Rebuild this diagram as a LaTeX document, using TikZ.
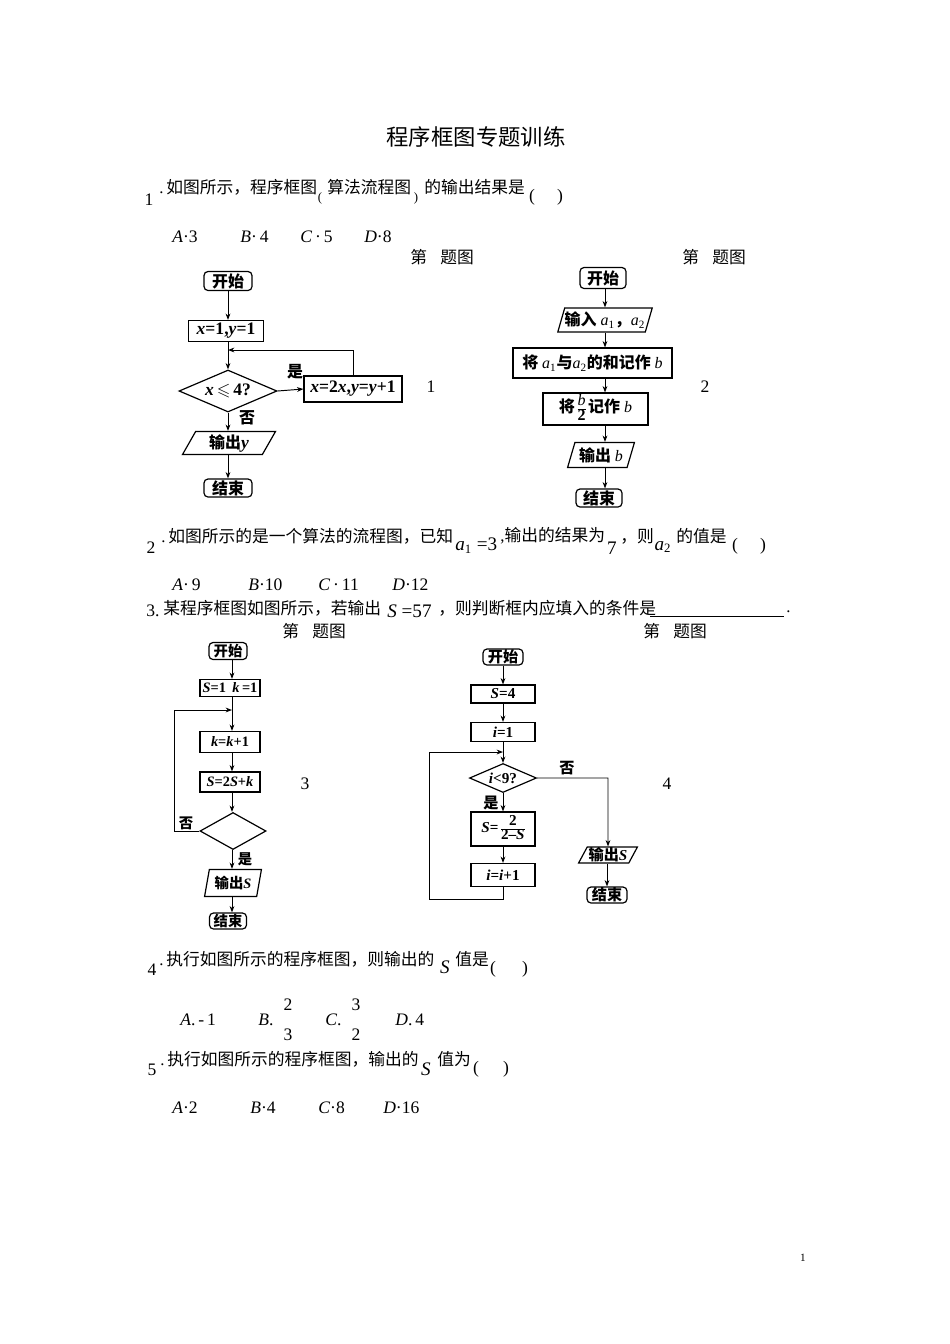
\documentclass[tikz,border=0pt]{standalone}
\usepackage{fontspec}
\usepackage{amsmath,amssymb}
\setmainfont{Liberation Serif}
\newfontfamily\cjk{Noto Sans CJK SC}
\usetikzlibrary{shapes.geometric,arrows.meta}
\newdimen\upx \upx=0.6266pt
\newcommand\fsz[1]{\fontsize{#1}{#1}\selectfont}
\newcommand\zh[1]{{\cjk #1}}
\newcommand\zhs[1]{{\cjk\fsz{10}#1}}
\newcommand\vfrac[2]{\renewcommand{\arraystretch}{0.8}\begin{tabular}{@{}c@{}}#1\\\hline #2\end{tabular}}
\begin{document}
\begin{tikzpicture}[x=0.6266pt,y=-0.6266pt,
  txt/.style={inner sep=0pt, anchor=west, font=\fsz{10.5}},
  num/.style={inner sep=0pt, font=\fsz{11}},
  sm/.style={inner sep=0pt, font=\fsz{8}},
  par/.style={inner sep=0pt, font=\fsz{11}},
  opt/.style={inner sep=0pt, anchor=west, font=\fsz{11}},
  sz/.style 2 args={minimum width=#1\upx, minimum height=#2\upx},
  fc/.style={draw, line width=0.75pt, inner sep=0pt, font=\bfseries\fsz{11}},
  fcb/.style={fc, font=\bfseries\fsz{10}},
  fcs/.style={fc, font=\bfseries\fsz{9}},
  fct/.style={fc, font=\bfseries\fsz{9.5}},
  term/.style={rectangle, rounded corners=4\upx},
  proc/.style={rectangle},
  dec/.style={diamond, aspect=2},
  io/.style={trapezium, trapezium stretches=true},
  arr/.style={line width=0.6pt, -{Stealth[length=4pt,width=3pt]}},
  ln/.style={line width=0.6pt},
  lab/.style={inner sep=0pt, font=\bfseries\fsz{10}},
]
\useasboundingbox (0,0) rectangle (950,1344);
\fill[white] (0,0) rectangle (950,1344);

% title
\node[inner sep=0pt, font=\fsz{14}] (title) at (476,137) {\zh{程序框图专题训练}};

% question 1
\node[num] (q1n) at (149,200) {1};
\node[txt] (q1a) at (159,187) {.\,\zh{如图所示，程序框图}};
\node[sm] (q1b) at (320,198) {(};
\node[txt] (q1c) at (327,187) {\zh{算法流程图}};
\node[sm] (q1d) at (416,198) {)};
\node[txt] (q1e) at (424,187) {\zh{的输出结果是}};
\node[par] (q1f) at (532,197) {(};
\node[par] (q1g) at (560,197) {)};
\node[opt] (o1a) at (172,237) {\textit{A}·3};
\node[opt] (o1b) at (240,237) {\textit{B}·\,4};
\node[opt] (o1c) at (300,237) {\textit{C}\,·\,5};
\node[opt] (o1d) at (364,237) {\textit{D}·8};
\node[txt] (cap1) at (410,257) {\zh{第}\hspace{0.8em}\zh{题图}};
\node[txt] (cap2) at (682,257) {\zh{第}\hspace{0.8em}\zh{题图}};

% flowchart 1
\node[fcb, term, sz={48}{19}] (s1) at (228,281) {\zh{开始}};
\node[fc, proc, sz={75}{21}] (p1) at (226,331) {\textit{x}=1,\textit{y}=1};
\node[fc, dec, sz={98}{42}] (d1) at (228,391) {\textit{x}\,$\leqslant$\,4?};
\node[fc, proc, sz={98}{26}] (p2) at (353,389) {\textit{x}=2\textit{x},\textit{y}=\textit{y}+1};
\node[fc, io, trapezium left angle=66, trapezium right angle=114, sz={93}{23}] (io1) at (229,443) {\zhs{输出}\textit{y}};
\node[fcb, term, sz={48}{18}] (e1) at (228,488) {\zh{结束}};
\coordinate (j1) at (228,350);
\draw[arr] (s1.south) -- (s1.south |- p1.north);
\draw[arr] (d1.north |- p1.south) -- (d1.north);
\draw[arr] (d1.east) -- (p2.west);
\draw[arr] (p2.north) |- (j1);
\draw[arr] (d1.south) -- (d1.south |- io1.north);
\draw[arr] (e1.north |- io1.south) -- (e1.north);
\node[lab] (y1) at (295,372) {\zh{是}};
\node[lab] (n1) at (247,418) {\zh{否}};
\node[inner sep=0pt, font=\fsz{11}] (f1) at (431,387) {1};

% flowchart 2
\coordinate (c2) at (605,0);
\node[fcb, term, sz={46}{21}] (s2) at (603,278) {\zh{开始}};
\node[fcb, io, trapezium left angle=67, trapezium right angle=113, sz={94}{24}] (in2) at (605,320) {\zh{输入}~\textit{\mdseries a}\textsubscript{\mdseries 1}\zh{，}\textit{\mdseries a}\textsubscript{\mdseries 2}};
\node[fcb, proc, sz={159}{30}] (p21) at (592.5,363) {\zh{将}~\textit{\mdseries a}\textsubscript{\mdseries 1}\zh{与}\textit{\mdseries a}\textsubscript{\mdseries 2}\zh{的和记作}~\textit{\mdseries b}};
\node[fcb, proc, sz={105}{32}] (p22) at (595.5,409) {\zh{将}\,\vfrac{\textit{\mdseries b}}{2}\,\zh{记作}~\textit{\mdseries b}};
\node[fcb, io, trapezium left angle=68, trapezium right angle=112, sz={67}{25}] (io2) at (601,455) {\zh{输出}~\textit{\mdseries b}};
\node[fcb, term, sz={46}{18}] (e2) at (599,498) {\zh{结束}};
\draw[arr] (s2.south -| c2) -- (in2.north -| c2);
\draw[arr] (in2.south -| c2) -- (p21.north -| c2);
\draw[arr] (p21.south -| c2) -- (p22.north -| c2);
\draw[arr] (p22.south -| c2) -- (io2.north -| c2);
\draw[arr] (io2.south -| c2) -- (e2.north -| c2);
\node[inner sep=0pt, font=\fsz{11}] (f2) at (705,387) {2};

% question 2
\node[num] (q2n) at (151,548) {2};
\node[txt] (q2a) at (161,536) {.\,\zh{如图所示的是一个算法的流程图，已知}};
\node[inner sep=0pt, anchor=west, font=\fsz{12}] (q2b) at (455,546) {\textit{a}\textsubscript{1} =3};
\node[txt] (q2c) at (500,536) {,\zh{输出的结果为}};
\node[inner sep=0pt, font=\fsz{12}] (q2d) at (612,548) {7};
\node[txt] (q2e) at (620,536) {\zh{，则}};
\node[inner sep=0pt, font=\fsz{12}] (q2f) at (663,547) {\textit{a}\textsubscript{2}};
\node[txt] (q2g) at (676,536) {\zh{的值是}};
\node[par] (q2h) at (735,546) {(};
\node[par] (q2i) at (763,546) {)};
\node[opt] (o2a) at (172,585) {\textit{A}·\,9};
\node[opt] (o2b) at (248,585) {\textit{B}·10};
\node[opt] (o2c) at (318,585) {\textit{C}\,·\,11};
\node[opt] (o2d) at (392,585) {\textit{D}·12};

% question 3
\node[txt, font=\fsz{11}] (q3n) at (146,611) {3.};
\node[txt] (q3a) at (163,608) {\zh{某程序框图如图所示，若输出}};
\node[inner sep=0pt, anchor=west, font=\fsz{12}] (q3b) at (387,611) {\textit{S} =57};
\node[txt] (q3c) at (438,608) {\zh{，则判断框内应填入的条件是}};
\coordinate (u1) at (650,616);
\coordinate (u2) at (784,616);
\draw[line width=0.5pt] (u1) -- (u2);
\node[txt] (q3d) at (786,612) {.};
\node[txt] (cap3) at (282,631) {\zh{第}\hspace{0.8em}\zh{题图}};
\node[txt] (cap4) at (643,631) {\zh{第}\hspace{0.8em}\zh{题图}};

% flowchart 3
\coordinate (c3) at (232,0);
\node[fcs, term, sz={38}{17}] (s3) at (228,651) {\zh{开始}};
\node[fcs, proc, sz={60}{17}] (p31) at (230,688) {\textit{S}=1\hspace{0.45em}\textit{k}\,=1};
\node[fcs, proc, sz={60}{21}] (p32) at (230,742) {\textit{k}=\textit{k}+1};
\node[fcs, proc, sz={60}{20}] (p33) at (230,782) {\textit{S}=2\textit{S}+\textit{k}};
\node[fcs, dec, sz={66}{37}] (d3) at (233,831) {};
\node[fcs, io, trapezium left angle=75, trapezium right angle=105, sz={57}{27}] (io3) at (233,883) {\zh{输出}\textit{S}};
\node[fcs, term, sz={37}{16}] (e3) at (228,921) {\zh{结束}};
\coordinate (j3) at (232,710);
\coordinate (k3) at (174,710);
\draw[arr] (s3.south -| c3) -- (p31.north -| c3);
\draw[arr] (p31.south -| c3) -- (p32.north -| c3);
\draw[arr] (p32.south -| c3) -- (p33.north -| c3);
\draw[arr] (p33.south -| c3) -- (d3.north -| c3);
\draw[arr] (d3.south -| c3) -- (io3.north -| c3);
\draw[arr] (io3.south -| c3) -- (e3.north -| c3);
\draw[arr] (d3.west) -| (k3) -- (j3);
\node[lab, font=\bfseries\fsz{9}] (n3) at (186,823) {\zh{否}};
\node[lab, font=\bfseries\fsz{9}] (y3) at (245,859) {\zh{是}};
\node[inner sep=0pt, font=\fsz{11}] (f3) at (305,784) {3};

% flowchart 4
\node[fct, term, sz={40}{16}] (s4) at (503,657) {\zh{开始}};
\node[fct, proc, sz={64}{18}] (p41) at (503,694) {\textit{S}=4};
\node[fct, proc, sz={64}{19}] (p42) at (503,732) {\textit{i}=1};
\node[fct, dec, sz={67}{29}] (d4) at (503,778) {\textit{i}<9?};
\node[fct, proc, sz={64}{34}] (p43) at (503,829) {\textit{S}=\,\vfrac{2}{2–\textit{S}}};
\node[fct, proc, sz={64}{23}] (p44) at (503,875) {\textit{i}=\textit{i}+1};
\node[fct, io, trapezium left angle=61, trapezium right angle=119, sz={59}{16}] (io4) at (608,855) {\zh{输出}\textit{S}};
\node[fct, term, sz={40}{16}] (e4) at (607,895) {\zh{结束}};
\coordinate (b4) at (503,899);
\coordinate (l4) at (429,752);
\coordinate (j4) at (503,752);
\coordinate (r4) at (608,778);
\draw[arr] (s4.south) -- (p41.north);
\draw[arr] (p41.south) -- (p42.north);
\draw[arr] (p42.south) -- (d4.north);
\draw[arr] (d4.south) -- (p43.north);
\draw[arr] (p43.south) -- (p44.north);
\draw[ln] (p44.south) -- (b4) -| (l4);
\draw[arr] (l4) -- (j4);
\draw[arr] (d4.east) -- (r4) -- (io4.north);
\draw[arr] (io4.south -| e4.north) -- (e4.north);
\node[lab, font=\bfseries\fsz{9.5}] (n4) at (567,768) {\zh{否}};
\node[lab, font=\bfseries\fsz{9.5}] (y4) at (491,803) {\zh{是}};
\node[inner sep=0pt, font=\fsz{11}] (f4) at (667,784) {4};

% question 4
\node[num] (q4n) at (152,970) {4};
\node[txt] (q4a) at (159,959) {.\,\zh{执行如图所示的程序框图，则输出的}};
\node[inner sep=0pt, font=\fsz{12}] (q4b) at (445,967) {\textit{S}};
\node[txt] (q4c) at (455,959) {\zh{值是}};
\node[par] (q4d) at (493,969) {(};
\node[par] (q4e) at (525,969) {)};
\node[opt] (o4a) at (180,1020) {\textit{A}.\,-\,1};
\node[opt] (o4b) at (258,1020) {\textit{B}.};
\node[inner sep=0pt, font=\fsz{11}] (o4b1) at (288,1005) {2};
\node[inner sep=0pt, font=\fsz{11}] (o4b2) at (288,1035) {3};
\node[opt] (o4c) at (325,1020) {\textit{C}.};
\node[inner sep=0pt, font=\fsz{11}] (o4c1) at (356,1005) {3};
\node[inner sep=0pt, font=\fsz{11}] (o4c2) at (356,1035) {2};
\node[opt] (o4d) at (395,1020) {\textit{D}.\,4};

% question 5
\node[num] (q5n) at (152,1070) {5};
\node[txt] (q5a) at (160,1059) {.\,\zh{执行如图所示的程序框图，输出的}};
\node[inner sep=0pt, font=\fsz{12}] (q5b) at (426,1069) {\textit{S}};
\node[txt] (q5c) at (437,1059) {\zh{值为}};
\node[par] (q5d) at (476,1069) {(};
\node[par] (q5e) at (506,1069) {)};
\node[opt] (o5a) at (172,1108) {\textit{A}·2};
\node[opt] (o5b) at (250,1108) {\textit{B}·4};
\node[opt] (o5c) at (318,1108) {\textit{C}·8};
\node[opt] (o5d) at (383,1108) {\textit{D}·16};

\node[inner sep=0pt, font=\fsz{7}] (pg) at (803,1258) {1};
\end{tikzpicture}
\end{document}
